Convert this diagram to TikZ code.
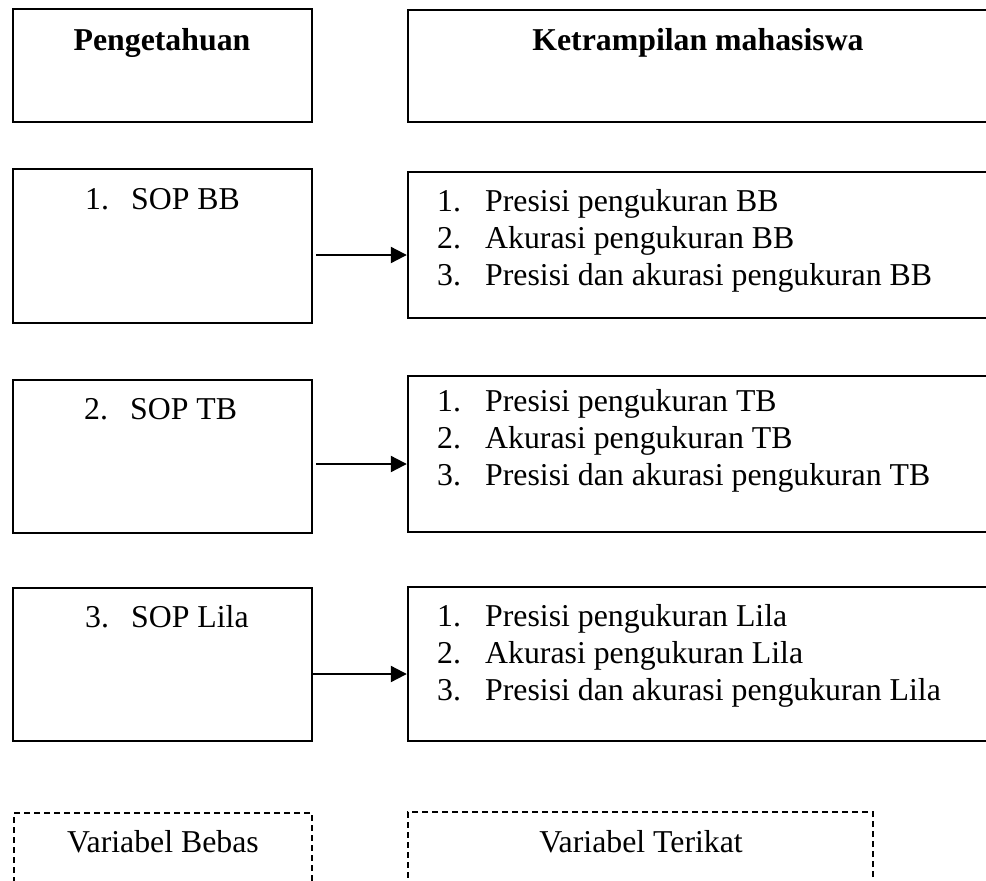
\documentclass[tikz,border=0pt]{standalone}
\usepackage{fontspec}
\setmainfont{Liberation Serif}
\usetikzlibrary{arrows.meta}
\begin{document}
\begin{tikzpicture}[x=1pt,y=-1pt,
  every node/.style={font=\fontsize{31.8}{37}\selectfont},
  box/.style={draw, line width=1.9pt, inner sep=0pt},
  dbox/.style={draw, dash pattern=on 6pt off 4pt, line width=1.4pt, inner sep=0pt},
  lbl/.style={anchor=base west, inner sep=0pt},
  ctr/.style={anchor=base, inner sep=0pt},
  hdr/.style={anchor=base, inner sep=0pt, font=\fontsize{31.8}{37}\selectfont\bfseries},
  arr/.style={line width=2.2pt, -{Triangle[length=16pt,width=16pt]}}]
\useasboundingbox (0,0) rectangle (986,881);
\clip (0,0) rectangle (986,881);
\fill[white] (0,0) rectangle (986,881);

% header boxes
\node[box, minimum width=299pt, minimum height=113pt] (hl) at (162.5,65.5) {};
\node[box, minimum width=582pt, minimum height=112pt] (hr) at (698.75,66) {};
\node[hdr] (hlt) at (162,50) {Pengetahuan};
\node[hdr] (hrt) at (698,50) {Ketrampilan mahasiswa};

% row 1
\node[box, minimum width=299pt, minimum height=154pt] (l1) at (162.5,246) {};
\node[box, minimum width=582pt, minimum height=146pt] (r1) at (698.75,245) {};
\node[lbl] (l1n) at (85,209) {1.};
\node[lbl] (l1t) at (131,209) {SOP BB};
\node[lbl] (r1n1) at (437,211) {1.};
\node[lbl] (r1t1) at (485,211) {Presisi pengukuran BB};
\node[lbl] (r1n2) at (437,248) {2.};
\node[lbl] (r1t2) at (485,248) {Akurasi pengukuran BB};
\node[lbl] (r1n3) at (437,285) {3.};
\node[lbl] (r1t3) at (485,285) {Presisi dan akurasi pengukuran BB};
\coordinate (s1) at (316,255);
\draw[arr] (s1) -- (r1.west |- s1);

% row 2
\node[box, minimum width=299pt, minimum height=153pt] (l2) at (162.5,456.5) {};
\node[box, minimum width=582pt, minimum height=156pt] (r2) at (698.75,454) {};
\node[lbl] (l2n) at (84,419) {2.};
\node[lbl] (l2t) at (130,419) {SOP TB};
\node[lbl] (r2n1) at (437,411) {1.};
\node[lbl] (r2t1) at (485,411) {Presisi pengukuran TB};
\node[lbl] (r2n2) at (437,448) {2.};
\node[lbl] (r2t2) at (485,448) {Akurasi pengukuran TB};
\node[lbl] (r2n3) at (437,485) {3.};
\node[lbl] (r2t3) at (485,485) {Presisi dan akurasi pengukuran TB};
\coordinate (s2) at (316,464);
\draw[arr] (s2) -- (r2.west |- s2);

% row 3
\node[box, minimum width=299pt, minimum height=153pt] (l3) at (162.5,664.5) {};
\node[box, minimum width=582pt, minimum height=154pt] (r3) at (698.75,664) {};
\node[lbl] (l3n) at (85,627) {3.};
\node[lbl] (l3t) at (131,627) {SOP Lila};
\node[lbl] (r3n1) at (437,626) {1.};
\node[lbl] (r3t1) at (485,626) {Presisi pengukuran Lila};
\node[lbl] (r3n2) at (437,663) {2.};
\node[lbl] (r3t2) at (485,663) {Akurasi pengukuran Lila};
\node[lbl] (r3n3) at (437,700) {3.};
\node[lbl] (r3t3) at (485,700) {Presisi dan akurasi pengukuran Lila};
\coordinate (s3) at (313,674);
\draw[arr] (s3) -- (r3.west |- s3);

% dashed legend boxes
\node[dbox, minimum width=298pt, minimum height=110pt] (dl) at (163,868) {};
\node[dbox, minimum width=465pt, minimum height=110pt] (dr) at (640.5,867) {};
\node[ctr] (dlt) at (163,852) {Variabel Bebas};
\node[ctr] (drt) at (641,852) {Variabel Terikat};
\end{tikzpicture}
\end{document}
